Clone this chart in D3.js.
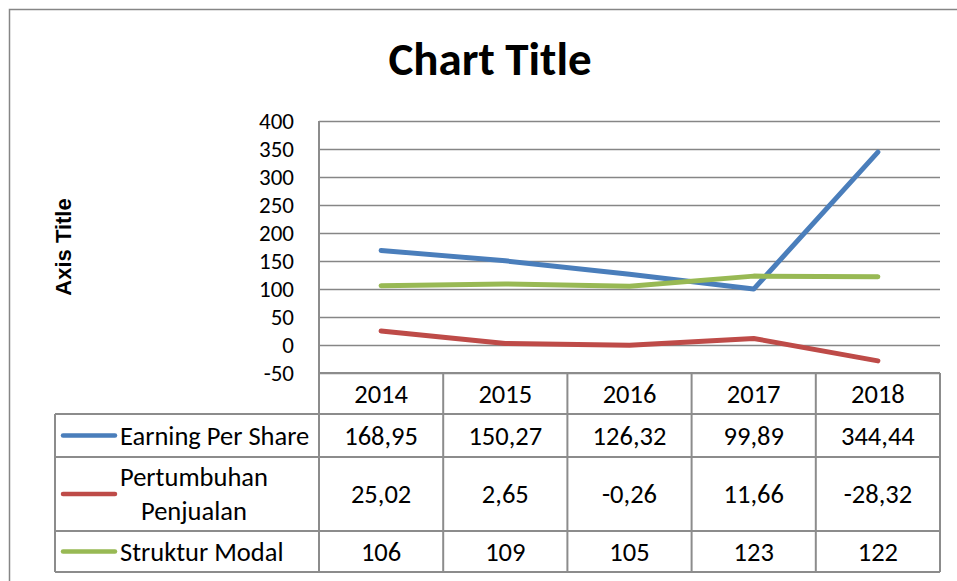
<!DOCTYPE html>
<html>
<head>
<meta charset="utf-8">
<script src="https://cdn.jsdelivr.net/npm/d3@7"></script>
<style>
    body { margin: 0; background: #fff; }
    text { font-family: Carlito, Calibri, Lato, sans-serif; fill: #000; }
</style>
</head>
<body>
<div id="chart-area"></div>
<script>

// Data
var years = ["2014", "2015", "2016", "2017", "2018"];
var seriesNames = ["Earning Per Share", "Pertumbuhan\nPenjualan", "Struktur Modal"];
var epsValues = [168.95, 150.27, 126.32, 99.89, 344.44];
var salesGrowthValues = [25.02, 2.65, -0.26, 11.66, -28.32];
var capitalValues = [106, 109, 105, 123, 122];
var yTicks = [-50, 0, 50, 100, 150, 200, 250, 300, 350, 400];
var seriesColors = ["#4a7ebb", "#be4b48", "#98b954"];


/*
 * LineTableChart - line chart with an Excel style data table below it
 */

LineTableChart = function(_parentElement, _series){
    this.parentElement = _parentElement;
    this.series = _series;

    this.initVis();
}

LineTableChart.prototype.initVis = function(){
    var vis = this;

    vis.width = 957;
    vis.height = 581;

    // plot area and table rows
    vis.plot = { left: 319, right: 940, top: 121, bottom: 373 };
    vis.tableLeft = 55;
    vis.rowBottoms = [414, 457, 531, 572];

    vis.svg = d3.select("#" + vis.parentElement).append("svg")
        .attr("width", vis.width)
        .attr("height", vis.height);

    // outer chart border
    vis.svg.append("rect")
        .attr("x", 9.5).attr("y", 9.5)
        .attr("width", 980).attr("height", 620)
        .attr("fill", "none")
        .attr("stroke", "#868686")
        .attr("stroke-width", 1.5);

    vis.x = d3.scaleBand()
        .domain(years)
        .range([vis.plot.left, vis.plot.right]);

    vis.y = d3.scaleLinear()
        .domain([-50, 400])
        .range([vis.plot.bottom, vis.plot.top]);

    // comma as decimal separator, plain hyphen for minus
    vis.locale = d3.formatLocale({ decimal: ",", thousands: ".", grouping: [3], currency: ["", ""], minus: "-" });
    vis.fmt2 = vis.locale.format(".2f");
    vis.fmtInt = vis.locale.format("d");

    vis.svg.append("text")
        .attr("x", 490).attr("y", 75)
        .attr("text-anchor", "middle")
        .style("font-size", "47px")
        .style("font-weight", "bold")
        .text("Chart Title");

    vis.svg.append("text")
        .attr("transform", "translate(71,247) rotate(-90)")
        .attr("text-anchor", "middle")
        .style("font-family", "'Liberation Sans', Arial, sans-serif")
        .style("font-size", "22px")
        .style("font-weight", "bold")
        .text("Axis Title");

    vis.wrangleData();
}

LineTableChart.prototype.wrangleData = function(){
    var vis = this;

    vis.displayData = vis.series.map(function(s){
        return {
            name: s.name,
            color: s.color,
            points: years.map(function(yr, i){ return { year: yr, value: s.values[i] }; })
        };
    });

    vis.updateVis();
}

LineTableChart.prototype.updateVis = function(){
    var vis = this;
    var bw = vis.x.bandwidth();
    var fontSize = "26.5px";

    // gridlines
    var yAxis = d3.axisLeft(vis.y)
        .tickValues(yTicks)
        .tickSize(-(vis.plot.right - vis.plot.left))
        .tickPadding(25)
        .tickFormat(vis.fmtInt);

    var yG = vis.svg.append("g")
        .attr("transform", "translate(" + vis.plot.left + ",0)")
        .call(yAxis);
    yG.select(".domain").remove();
    yG.selectAll("line").attr("stroke", "#868686").attr("stroke-width", 1.5);
    yG.selectAll("text")
        .style("font-size", "23px")
        .style("font-family", "Carlito, Calibri, Lato, sans-serif")
        .attr("fill", "#000");

    // table grid
    var grid = vis.svg.append("g").attr("class", "table-grid");
    var lineColor = "#8c8c8c";

    // vertical axis line + column separators
    var colEdges = years.map(function(d){ return vis.x(d); }).concat([vis.plot.right]);
    grid.selectAll(".col-line")
        .data(colEdges)
        .enter().append("line")
        .attr("x1", function(d){ return d; })
        .attr("x2", function(d){ return d; })
        .attr("y1", function(d, i){ return i === 0 ? vis.plot.top : vis.plot.bottom; })
        .attr("y2", vis.rowBottoms[3])
        .attr("stroke", lineColor)
        .attr("stroke-width", 2);

    // left edge of table (series rows)
    grid.append("line")
        .attr("x1", vis.tableLeft).attr("x2", vis.tableLeft)
        .attr("y1", vis.rowBottoms[0]).attr("y2", vis.rowBottoms[3])
        .attr("stroke", lineColor).attr("stroke-width", 2);

    grid.selectAll(".row-line")
        .data([vis.plot.bottom].concat(vis.rowBottoms))
        .enter().append("line")
        .attr("x1", function(d, i){ return i === 0 ? vis.plot.left : vis.tableLeft; })
        .attr("x2", vis.plot.right)
        .attr("y1", function(d){ return d; })
        .attr("y2", function(d){ return d; })
        .attr("stroke", lineColor)
        .attr("stroke-width", 2);

    // header
    vis.svg.selectAll(".year-label")
        .data(years)
        .enter().append("text")
        .attr("x", function(d){ return vis.x(d) + bw / 2; })
        .attr("y", (vis.plot.bottom + vis.rowBottoms[0]) / 2)
        .attr("dy", "0.35em")
        .attr("text-anchor", "middle")
        .style("font-size", fontSize)
        .text(function(d){ return d; });

    // series rows
    var rowTops = [vis.plot.bottom].concat(vis.rowBottoms);
    vis.displayData.forEach(function(s, r){
        var top = rowTops[r + 1], bottom = rowTops[r + 2];
        var cy = (top + bottom) / 2;

        vis.svg.append("line")
            .attr("x1", 63).attr("x2", 115)
            .attr("y1", cy).attr("y2", cy)
            .attr("stroke", s.color)
            .attr("stroke-width", 4.5)
            .attr("stroke-linecap", "round");

        var lines = s.name.split("\n");
        var label = vis.svg.append("text")
            .style("font-size", fontSize);
        lines.forEach(function(l, k){
            label.append("tspan")
                .attr("x", 120)
                .attr("y", cy + (k - (lines.length - 1) / 2) * 34)
                .attr("dy", "0.35em")
                .text(l);
        });
        if (lines.length > 1) {
            // center wrapped lines on the widest one
            var widths = [];
            label.selectAll("tspan").each(function(){ widths.push(this.getComputedTextLength()); });
            var maxW = d3.max(widths);
            label.selectAll("tspan")
                .attr("x", 120 + maxW / 2)
                .attr("text-anchor", "middle");
        }

        vis.svg.selectAll(".val-" + r)
            .data(s.points)
            .enter().append("text")
            .attr("x", function(d){ return vis.x(d.year) + bw / 2; })
            .attr("y", cy)
            .attr("dy", "0.35em")
            .attr("text-anchor", "middle")
            .style("font-size", fontSize)
            .text(function(d){ return Number.isInteger(d.value) ? vis.fmtInt(d.value) : vis.fmt2(d.value); });
    });

    // lines
    var line = d3.line()
        .x(function(d){ return vis.x(d.year) + bw / 2; })
        .y(function(d){ return vis.y(d.value); });

    vis.svg.selectAll(".series-line")
        .data(vis.displayData)
        .enter().append("path")
        .attr("class", "series-line")
        .attr("d", function(d){ return line(d.points); })
        .attr("fill", "none")
        .attr("stroke", function(d){ return d.color; })
        .attr("stroke-width", 5)
        .attr("stroke-linecap", "round")
        .attr("stroke-linejoin", "round");
}

var chart = new LineTableChart("chart-area", [
    { name: seriesNames[0], values: epsValues, color: seriesColors[0] },
    { name: seriesNames[1], values: salesGrowthValues, color: seriesColors[1] },
    { name: seriesNames[2], values: capitalValues, color: seriesColors[2] }
]);

</script>
</body>
</html>
